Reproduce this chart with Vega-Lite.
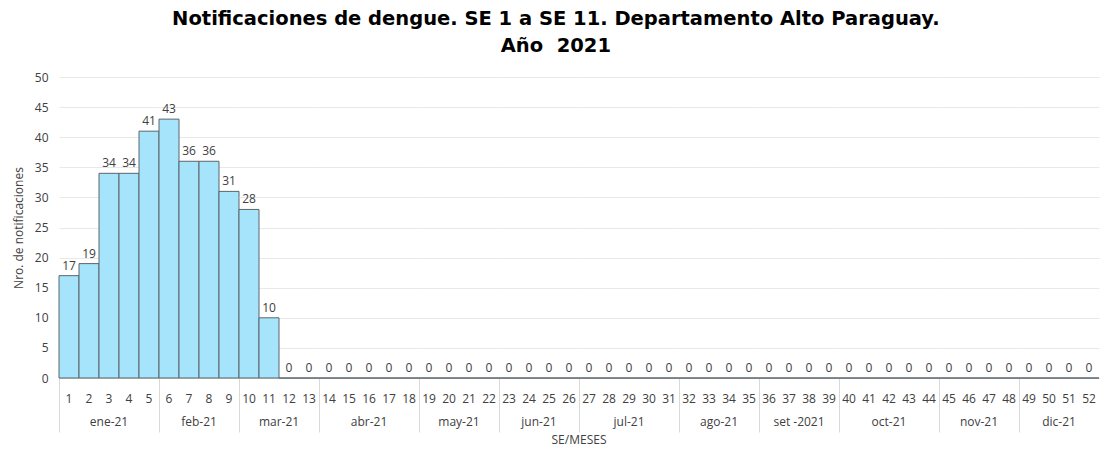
{
  "$schema": "https://vega.github.io/schema/vega-lite/v6.json",
  "padding": {"left": 12, "right": 0, "top": 8, "bottom": 5},
  "title": {
    "text": ["Notificaciones de dengue. SE 1 a SE 11. Departamento Alto Paraguay.", "Año\u00a0\u00a02021"],
    "font": "DejaVu Sans", "fontSize": 19.5, "fontWeight": "bold", "color": "#000000",
    "lineHeight": 27, "anchor": "middle", "offset": 15
  },
  "data": {"values": [
    {"se": 1, "n": 17, "mes": "ene-21", "m": 1},
    {"se": 2, "n": 19, "mes": "ene-21", "m": 1},
    {"se": 3, "n": 34, "mes": "ene-21", "m": 1},
    {"se": 4, "n": 34, "mes": "ene-21", "m": 1},
    {"se": 5, "n": 41, "mes": "ene-21", "m": 1},
    {"se": 6, "n": 43, "mes": "feb-21", "m": 2},
    {"se": 7, "n": 36, "mes": "feb-21", "m": 2},
    {"se": 8, "n": 36, "mes": "feb-21", "m": 2},
    {"se": 9, "n": 31, "mes": "feb-21", "m": 2},
    {"se": 10, "n": 28, "mes": "mar-21", "m": 3},
    {"se": 11, "n": 10, "mes": "mar-21", "m": 3},
    {"se": 12, "n": 0, "mes": "mar-21", "m": 3},
    {"se": 13, "n": 0, "mes": "mar-21", "m": 3},
    {"se": 14, "n": 0, "mes": "abr-21", "m": 4},
    {"se": 15, "n": 0, "mes": "abr-21", "m": 4},
    {"se": 16, "n": 0, "mes": "abr-21", "m": 4},
    {"se": 17, "n": 0, "mes": "abr-21", "m": 4},
    {"se": 18, "n": 0, "mes": "abr-21", "m": 4},
    {"se": 19, "n": 0, "mes": "may-21", "m": 5},
    {"se": 20, "n": 0, "mes": "may-21", "m": 5},
    {"se": 21, "n": 0, "mes": "may-21", "m": 5},
    {"se": 22, "n": 0, "mes": "may-21", "m": 5},
    {"se": 23, "n": 0, "mes": "jun-21", "m": 6},
    {"se": 24, "n": 0, "mes": "jun-21", "m": 6},
    {"se": 25, "n": 0, "mes": "jun-21", "m": 6},
    {"se": 26, "n": 0, "mes": "jun-21", "m": 6},
    {"se": 27, "n": 0, "mes": "jul-21", "m": 7},
    {"se": 28, "n": 0, "mes": "jul-21", "m": 7},
    {"se": 29, "n": 0, "mes": "jul-21", "m": 7},
    {"se": 30, "n": 0, "mes": "jul-21", "m": 7},
    {"se": 31, "n": 0, "mes": "jul-21", "m": 7},
    {"se": 32, "n": 0, "mes": "ago-21", "m": 8},
    {"se": 33, "n": 0, "mes": "ago-21", "m": 8},
    {"se": 34, "n": 0, "mes": "ago-21", "m": 8},
    {"se": 35, "n": 0, "mes": "ago-21", "m": 8},
    {"se": 36, "n": 0, "mes": "set -2021", "m": 9},
    {"se": 37, "n": 0, "mes": "set -2021", "m": 9},
    {"se": 38, "n": 0, "mes": "set -2021", "m": 9},
    {"se": 39, "n": 0, "mes": "set -2021", "m": 9},
    {"se": 40, "n": 0, "mes": "oct-21", "m": 10},
    {"se": 41, "n": 0, "mes": "oct-21", "m": 10},
    {"se": 42, "n": 0, "mes": "oct-21", "m": 10},
    {"se": 43, "n": 0, "mes": "oct-21", "m": 10},
    {"se": 44, "n": 0, "mes": "oct-21", "m": 10},
    {"se": 45, "n": 0, "mes": "nov-21", "m": 11},
    {"se": 46, "n": 0, "mes": "nov-21", "m": 11},
    {"se": 47, "n": 0, "mes": "nov-21", "m": 11},
    {"se": 48, "n": 0, "mes": "nov-21", "m": 11},
    {"se": 49, "n": 0, "mes": "dic-21", "m": 12},
    {"se": 50, "n": 0, "mes": "dic-21", "m": 12},
    {"se": 51, "n": 0, "mes": "dic-21", "m": 12},
    {"se": 52, "n": 0, "mes": "dic-21", "m": 12}
  ]},
  "facet": {
    "column": {
      "field": "mes", "type": "nominal",
      "sort": {"field": "m", "op": "min"},
      "title": "SE/MESES",
      "header": {
        "labelOrient": "bottom", "titleOrient": "bottom",
        "labelFont": "Open Sans", "labelFontSize": 12, "labelColor": "#404040",
        "labelPadding": 39,
        "titleFont": "Open Sans", "titleFontSize": 12, "titleFontWeight": "normal",
        "titleColor": "#404040", "titlePadding": -3
      }
    }
  },
  "spacing": 0,
  "bounds": "flush",
  "resolve": {"scale": {"x": "independent"}},
  "spec": {
    "width": {"step": 20},
    "height": 301,
    "encoding": {
      "x": {
        "field": "se", "type": "ordinal", "sort": "ascending",
        "scale": {"paddingInner": 0, "paddingOuter": 0},
        "axis": {
          "title": null, "labelAngle": 0,
          "labelFont": "Open Sans", "labelFontSize": 12, "labelColor": "#404040",
          "bandPosition": 0, "tickSize": 54, "tickWidth": 1,
          "tickColor": {"condition": {"test": "datum.index == 0", "value": "#d9d9d9"}, "value": "transparent"},
          "labelPadding": -39, "domainColor": "#d9d9d9"
        }
      },
      "y": {
        "field": "n", "type": "quantitative",
        "scale": {"domain": [0, 50]},
        "axis": {
          "title": "Nro. de notificaciones", "titleFont": "Open Sans", "titleFontSize": 12,
          "titleFontWeight": "normal", "titleColor": "#404040", "titlePadding": 9,
          "values": [0, 5, 10, 15, 20, 25, 30, 35, 40, 45, 50],
          "domain": false, "ticks": false, "labelPadding": 11,
          "labelFont": "Open Sans", "labelFontSize": 12, "labelColor": "#404040",
          "gridColor": "#e8e8e8"
        }
      }
    },
    "layer": [
      {"mark": {"type": "bar", "fill": "#a6e4fb", "stroke": "#5b646b", "strokeWidth": 1}},
      {"mark": {"type": "text", "baseline": "bottom", "dy": -3, "font": "Open Sans", "fontSize": 12, "color": "#404040"},
       "encoding": {"text": {"field": "n", "type": "quantitative"}}}
    ]
  },
  "config": {"view": {"stroke": null}}
}
